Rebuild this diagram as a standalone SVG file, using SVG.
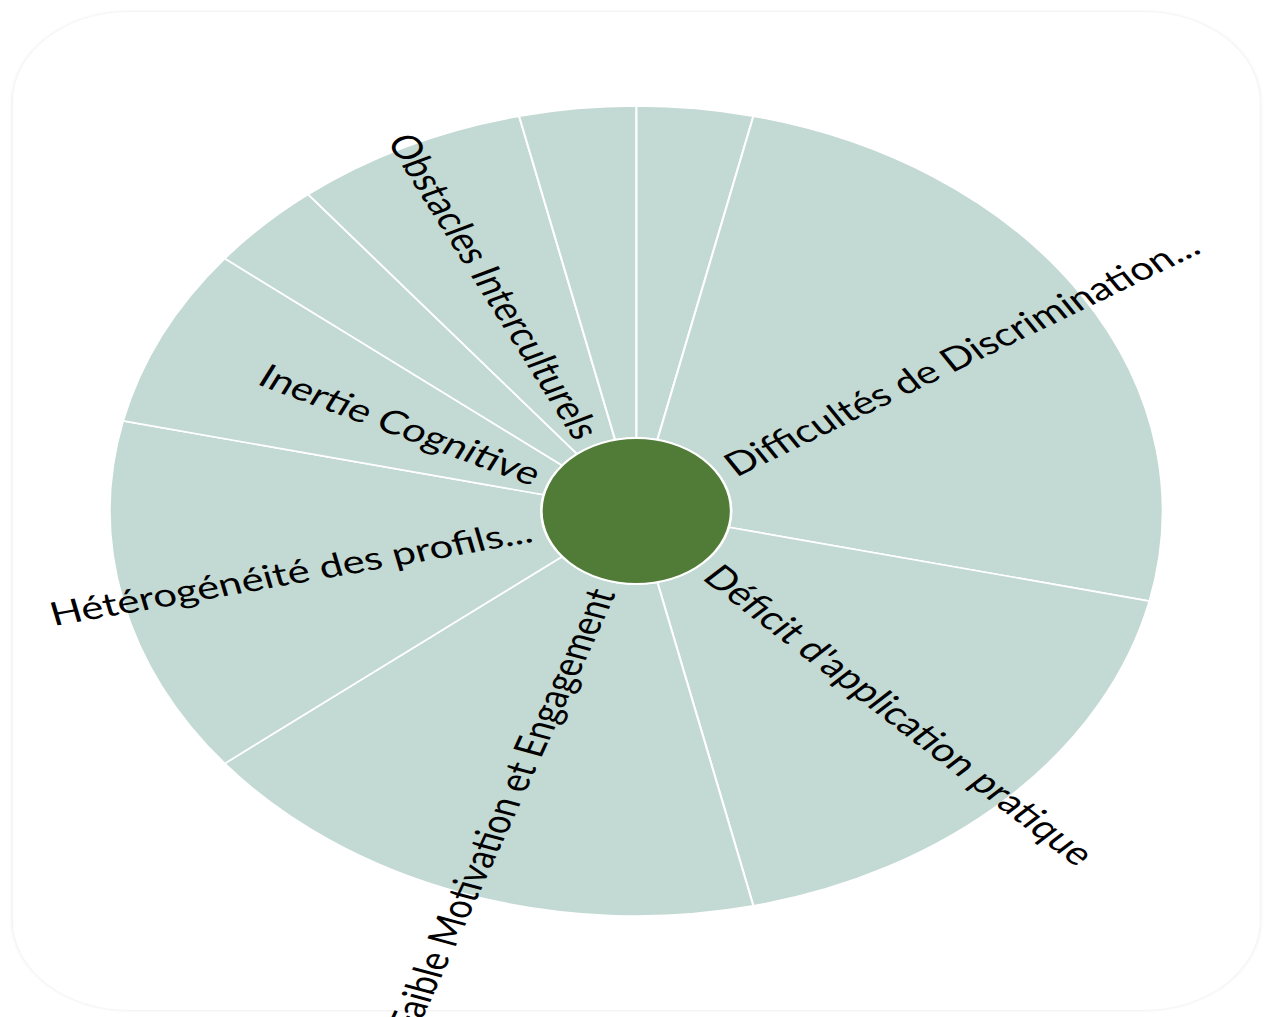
<svg xmlns="http://www.w3.org/2000/svg" width="1266" height="1017" viewBox="0 0 1266 1017">
  <defs>
    <filter id="shadow" x="-5%" y="-5%" width="110%" height="110%">
      <feDropShadow dx="0" dy="0" stdDeviation="1.5" flood-color="#000" flood-opacity="0.12"/>
    </filter>
  </defs>
  <style>
    .sector { fill: #c3d9d3; stroke: #ffffff; stroke-width: 1.6; }
    .center { fill: #507c38; stroke: #ffffff; stroke-width: 2; }
    .label { font-family: Lato, "Liberation Sans", sans-serif; font-size: 32.3px; fill: #000000; dominant-baseline: central; }
    .card { fill: #ffffff; }
  </style>
  <rect width="1266" height="1017" fill="#ffffff"/>
  <g transform="scale(1.2998,1)">
    <rect class="card" x="10" y="12" width="959" height="998" rx="90" ry="90" filter="url(#shadow)"/>

    <g id="connectors"></g>

    <g id="s-top-right-small">
      <path class="sector" d="M489.5,438 L489.5,106 A405,405 0 0 1 579.62,116.15 L505.74,439.83 A73,73 0 0 0 489.5,438 Z"/>
    </g>
    <g id="s-difficultes">
      <path class="sector" d="M505.74,439.83 L579.62,116.15 A405,405 0 0 1 884.35,601.12 L560.67,527.24 A73,73 0 0 0 505.74,439.83 Z"/>
      <text class="label" transform="translate(559.78,466.84) rotate(-32.143)" text-anchor="start">Difficultés de Discrimination...</text>
    </g>
    <g id="s-deficit">
      <path class="sector" d="M560.67,527.24 L884.35,601.12 A405,405 0 0 1 579.62,905.85 L505.74,582.17 A73,73 0 0 0 560.67,527.24 Z"/>
      <text class="label" transform="translate(548.19,569.69) rotate(45)" text-anchor="start">Déficit d'application pratique</text>
    </g>
    <g id="s-faible">
      <path class="sector" d="M505.74,582.17 L579.62,905.85 A405,405 0 0 1 172.86,763.51 L432.43,556.51 A73,73 0 0 0 505.74,582.17 Z"/>
      <text class="label" transform="translate(462.09,589.34) rotate(-70.714)" text-anchor="end">Faible Motivation et Engagement</text>
    </g>
    <g id="s-heterogeneite">
      <path class="sector" d="M432.43,556.51 L172.86,763.51 A405,405 0 0 1 94.65,420.88 L418.33,494.76 A73,73 0 0 0 432.43,556.51 Z"/>
      <text class="label" transform="translate(408.58,529.47) rotate(-12.857)" text-anchor="end">Hétérogénéité des profils...</text>
    </g>
    <g id="s-inertie">
      <path class="sector" d="M418.33,494.76 L94.65,420.88 A405,405 0 0 1 172.86,258.49 L432.43,465.49 A73,73 0 0 0 418.33,494.76 Z"/>
      <text class="label" transform="translate(414.72,474.99) rotate(25.714)" text-anchor="end">Inertie Cognitive</text>
    </g>
    <g id="s-left-small">
      <path class="sector" d="M432.43,465.49 L172.86,258.49 A405,405 0 0 1 236.99,194.36 L443.99,453.93 A73,73 0 0 0 432.43,465.49 Z"/>
    </g>
    <g id="s-obstacles">
      <path class="sector" d="M443.99,453.93 L236.99,194.36 A405,405 0 0 1 399.38,116.15 L473.26,439.83 A73,73 0 0 0 443.99,453.93 Z"/>
      <text class="label" transform="translate(453.49,436.22) rotate(64.286)" text-anchor="end">Obstacles Interculturels</text>
    </g>
    <g id="s-top-left-small">
      <path class="sector" d="M473.26,439.83 L399.38,116.15 A405,405 0 0 1 489.5,106 L489.5,438 A73,73 0 0 0 473.26,439.83 Z"/>
    </g>

    <g id="center-node">
      <circle class="center" cx="489.5" cy="511" r="73"/>
    </g>
  </g>
</svg>
